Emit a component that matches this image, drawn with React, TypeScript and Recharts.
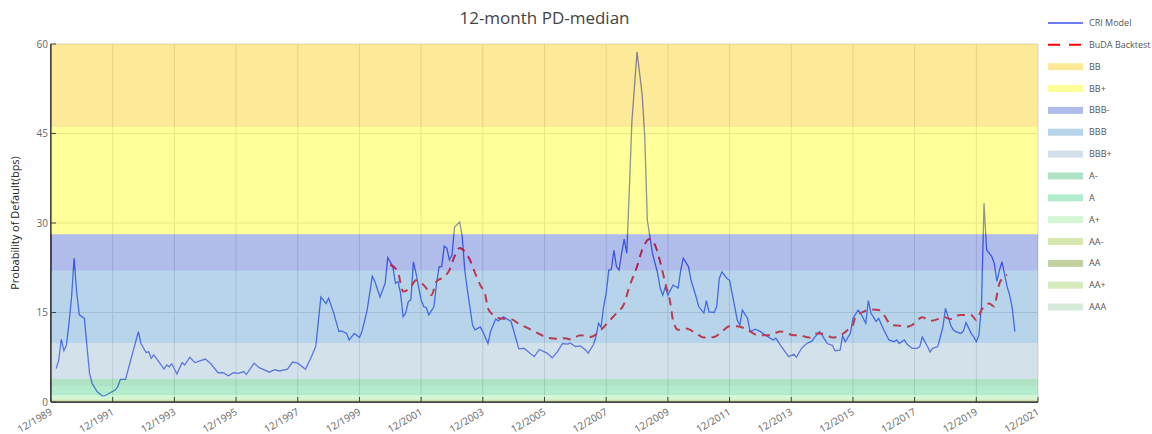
import React from 'react';
import { LineChart, Line, XAxis, YAxis, CartesianGrid, ReferenceArea } from 'recharts';

// months since 12/1989, PD in bps
const criModel: [number, number][] = [
  [2, 5.6], [3, 7.0], [4, 10.5], [5, 8.6], [6, 9.5], [7, 13.2], [8, 17.6], [9, 24.1], [10, 18.3], [11, 14.6],
  [13, 14.0], [14, 9.3], [15, 4.8], [16, 3.1], [18, 1.7], [20, 1.0], [21, 1.05], [23, 1.55], [25, 2.0], [26, 2.6],
  [27, 3.8], [29, 3.8], [31, 7.0], [34, 11.8], [35, 9.8], [37, 8.3], [38, 8.4], [39, 7.3], [40, 7.9], [44, 5.5],
  [45, 6.2], [46, 5.9], [47, 6.4], [49, 4.7], [51, 6.6], [52, 6.2], [54, 7.5], [56, 6.6], [60, 7.2], [62, 6.5],
  [65, 4.9], [67, 4.9], [69, 4.4], [71, 4.9], [73, 4.8], [75, 5.1], [76, 4.6], [79, 6.5], [81, 5.75], [85, 5.0],
  [87, 5.4], [89, 5.2], [92, 5.5], [94, 6.7], [96, 6.5], [99, 5.5], [101, 7.3], [103, 9.3], [105, 17.6], [107, 16.5],
  [108, 17.4], [110, 14.9], [112, 11.8], [113, 11.9], [115, 11.5], [116, 10.4], [118, 11.5], [120, 10.8], [121, 11.8], [123, 15.4],
  [125, 21.1], [126, 20.2], [128, 17.6], [130, 19.9], [131, 24.2], [133, 22.7], [134, 19.9], [135, 20.2], [136, 18.2], [137, 14.3],
  [138, 14.9], [139, 16.8], [140, 17.1], [141, 23.5], [142, 21.6], [144, 17.1], [145, 16.0], [146, 15.8], [147, 14.6], [149, 16.0],
  [150, 19.9], [151, 22.7], [152, 22.7], [153, 26.1], [154, 25.8], [155, 23.8], [156, 24.6], [157, 29.3], [159, 30.2], [160, 27.7],
  [161, 22.0], [162, 18.8], [164, 12.9], [165, 12.1], [167, 12.6], [168, 11.8], [170, 9.8], [171, 11.8], [173, 13.9], [174, 13.6],
  [176, 14.3], [179, 13.5], [182, 8.9], [184, 9.0], [186, 8.3], [188, 7.6], [190, 8.8], [193, 8.2], [195, 7.4], [197, 8.4],
  [199, 9.8], [201, 9.7], [202, 9.9], [204, 9.3], [206, 9.4], [208, 8.7], [209, 8.2], [211, 9.6], [212, 10.9], [213, 13.2],
  [214, 12.5], [215, 16.0], [216, 18.2], [217, 22.1], [218, 22.2], [219, 25.4], [220, 22.7], [221, 22.1], [222, 24.9], [223, 27.3],
  [224, 24.9], [225, 35.5], [226, 47.0], [228, 58.7], [230, 51.5], [231, 44.5], [232, 30.5], [233, 27.7], [234, 24.9], [236, 21.6],
  [237, 19.1], [238, 17.9], [239, 19.3], [240, 17.9], [242, 19.6], [244, 19.1], [245, 22.1], [246, 24.1], [248, 22.7], [249, 20.4],
  [251, 17.6], [252, 16.0], [254, 14.9], [255, 17.0], [256, 15.1], [258, 15.0], [259, 16.0], [260, 20.7], [261, 21.8], [263, 20.7],
  [264, 20.4], [266, 16.0], [267, 13.7], [268, 12.9], [269, 15.4], [271, 14.0], [272, 11.8], [274, 12.2], [276, 11.8], [278, 11.2],
  [281, 10.4], [282, 10.7], [284, 9.4], [286, 8.2], [287, 7.6], [289, 8.0], [290, 7.5], [292, 9.0], [294, 9.8], [296, 10.2],
  [297, 10.8], [299, 11.8], [300, 11.2], [302, 9.8], [304, 9.5], [305, 8.6], [307, 8.7], [308, 11.1], [309, 10.1], [311, 11.5],
  [312, 14.0], [314, 15.4], [315, 14.9], [317, 13.2], [318, 17.0], [319, 14.9], [321, 13.5], [322, 14.0], [324, 12.1], [326, 10.4],
  [328, 10.1], [329, 10.4], [330, 9.8], [332, 10.4], [333, 9.7], [335, 9.0], [337, 9.0], [338, 9.3], [339, 10.9], [341, 9.3],
  [342, 8.4], [343, 9.0], [345, 9.3], [346, 10.9], [347, 12.6], [348, 15.7], [350, 12.9], [351, 12.1], [352, 11.8], [354, 11.5],
  [355, 11.9], [356, 13.3], [358, 11.5], [359, 10.9], [360, 10.1], [361, 11.2], [362, 16.0], [363, 33.3], [364, 25.5], [366, 24.4],
  [367, 23.2], [368, 20.2], [369, 22.1], [370, 23.5], [372, 19.3], [373, 17.9], [374, 15.7], [375, 11.8],
];

const budaBacktest: [number, number][] = [
  [132, 23.0], [135, 21.8], [136, 19.9], [137, 18.5], [140, 19.3], [142, 20.4], [146, 19.1], [148, 17.9], [150, 20.2], [153, 21.0],
  [155, 22.1], [157, 24.4], [159, 25.8], [161, 25.2], [163, 23.8], [165, 21.6], [167, 19.6], [169, 17.9], [170, 15.7], [172, 14.6],
  [175, 14.0], [179, 13.9], [182, 13.1], [185, 12.5], [190, 11.4], [193, 10.8], [197, 10.6], [200, 10.7], [202, 10.5], [206, 11.2],
  [210, 10.9], [214, 12.1], [217, 13.5], [220, 14.9], [223, 16.5], [225, 19.3], [228, 22.7], [230, 25.5], [233, 27.3], [235, 26.3],
  [237, 23.5], [239, 19.9], [241, 16.5], [242, 13.7], [244, 12.1], [247, 12.3], [251, 11.5], [254, 10.8], [258, 10.9], [261, 11.8],
  [264, 12.7], [267, 12.7], [271, 12.1], [275, 11.2], [279, 11.2], [284, 11.8], [289, 11.2], [291, 11.2], [295, 10.8], [298, 11.5],
  [301, 11.4], [304, 10.8], [308, 11.4], [310, 12.1], [312, 12.9], [313, 14.3], [316, 15.1], [319, 15.5], [322, 15.4], [324, 14.6],
  [327, 12.9], [330, 12.8], [333, 12.6], [335, 12.9], [339, 14.2], [342, 13.6], [345, 13.9], [347, 14.3], [350, 13.9], [352, 14.4],
  [354, 14.6], [358, 14.6], [360, 13.7], [362, 15.4], [365, 16.5], [367, 16.0], [368, 17.9], [369, 19.9], [371, 21.0], [372, 21.3],
];

const bandNames = ['BB', 'BB+', 'BBB-', 'BBB', 'BBB+', 'A-', 'A', 'A+', 'AA-', 'AA', 'AA+', 'AAA'];
const bandHigh = [60, 46.1, 28.1, 22.0, 9.9, 3.85, 2.6, 1.17, 0.4, 0.25, 0.15, 0.07];
const bandLow = [46.1, 28.1, 22.0, 9.9, 3.85, 2.6, 1.17, 0.4, 0.25, 0.15, 0.07, 0];
const bandColors = ['#f8ca00', '#ffff00', '#395aca', '#4d93ca', '#8eb4ca', '#39b76e', '#3ed082', '#93e893',
  '#98c539', '#648e11', '#98cd5c', '#98caa2'];

const xTicks = [0, 24, 48, 72, 96, 120, 144, 168, 192, 216, 240, 264, 288, 312, 336, 360, 384];
const yTicks = [0, 15, 30, 45, 60];

const criData = criModel.map(([m, v]) => ({ m, v }));
const budaData = budaBacktest.map(([m, v]) => ({ m, v }));

const FONT = '"Open Sans", "Liberation Sans", Arial, sans-serif';
const BAND_OPACITY = 0.4;

const XTick = (props: any) => {
  const { x, y, payload } = props;
  const label = `12/${1989 + payload.value / 12}`;
  return (
    <g>
      <line x1={x} y1={y} x2={x} y2={y - 5} stroke="#444" strokeWidth={1} />
      <text x={x + 2} y={y + 12} textAnchor="end" fontSize={10} fill="#666" fontFamily={FONT}
        transform={`rotate(-30 ${x + 2} ${y + 12})`}>
        {label}
      </text>
    </g>
  );
};

const YTick = (props: any) => {
  const { x, y, payload } = props;
  return (
    <g>
      <line x1={x} y1={y} x2={x + 5} y2={y} stroke="#444" strokeWidth={1} />
      <text x={x - 3} y={y + 3.5} textAnchor="end" fontSize={10} fill="#666" fontFamily={FONT}>
        {payload.value}
      </text>
    </g>
  );
};

const ChartLegend = () => {
  const rowTop = (i: number) => 23 + i * 21.85;
  return (
    <svg width={110} height={330} style={{ position: 'absolute', left: 1042, top: 0 }}>
      <line x1={6} x2={41} y1={rowTop(0)} y2={rowTop(0)} stroke="#3c50f0" strokeWidth={1.3} />
      <text x={47} y={rowTop(0) + 3} fontSize={9} fill="#555" fontFamily={FONT}>CRI Model</text>
      <line x1={6} x2={41} y1={rowTop(1)} y2={rowTop(1)} stroke="#ff0000" strokeWidth={2} strokeDasharray="12 9" />
      <text x={47} y={rowTop(1) + 3} fontSize={9} fill="#555" fontFamily={FONT}>BuDA Backtest</text>
      {bandNames.map((name, i) => (
        <g key={name}>
          <rect x={6} y={rowTop(i + 2) - 3.5} width={35} height={7} fill={bandColors[i]} fillOpacity={BAND_OPACITY} />
          <text x={47} y={rowTop(i + 2) + 3} fontSize={9} fill="#555" fontFamily={FONT}>{name}</text>
        </g>
      ))}
    </svg>
  );
};

export default function App() {
  return (
    <div style={{ position: 'absolute', left: 0, top: 0, width: 1152, height: 434, background: '#fff', fontFamily: FONT }}>
      <div style={{ position: 'absolute', left: 51, width: 987, top: 6, textAlign: 'center', fontSize: 17, color: '#444' }}>
        12-month PD-median
      </div>
      <div style={{
        position: 'absolute', left: 14, top: 223, transform: 'translate(-50%, -50%) rotate(-90deg)',
        whiteSpace: 'nowrap', fontSize: 11, color: '#222',
      }}>
        Probability of Default(bps)
      </div>
      <LineChart width={1152} height={434} margin={{ top: 44, right: 114, bottom: 0, left: 0 }}>
        <CartesianGrid stroke="#d9d9d9" strokeWidth={1} />
        <XAxis type="number" dataKey="m" domain={[0, 384]} ticks={xTicks} height={32}
          allowDataOverflow tickSize={0} tickMargin={0} tickLine={false}
          axisLine={{ stroke: '#444', strokeWidth: 2 }} tick={<XTick />} interval={0} />
        <YAxis type="number" domain={[0, 60]} ticks={yTicks} width={51}
          tickSize={0} tickMargin={0} tickLine={false}
          axisLine={{ stroke: '#444', strokeWidth: 2 }} tick={<YTick />} interval={0} />
        <Line data={criData} dataKey="v" type="linear" stroke="#3c50f0" strokeWidth={1.3}
          dot={false} isAnimationActive={false} />
        <Line data={budaData} dataKey="v" type="monotone" stroke="#ff0000" strokeWidth={2}
          strokeDasharray="8 6" dot={false} isAnimationActive={false} />
        {bandNames.map((name, i) => (
          <ReferenceArea key={name} y1={bandLow[i]} y2={bandHigh[i]} fill={bandColors[i]}
            fillOpacity={BAND_OPACITY} stroke="none" ifOverflow="hidden" zIndex={600} />
        ))}
      </LineChart>
      <ChartLegend />
    </div>
  );
}
